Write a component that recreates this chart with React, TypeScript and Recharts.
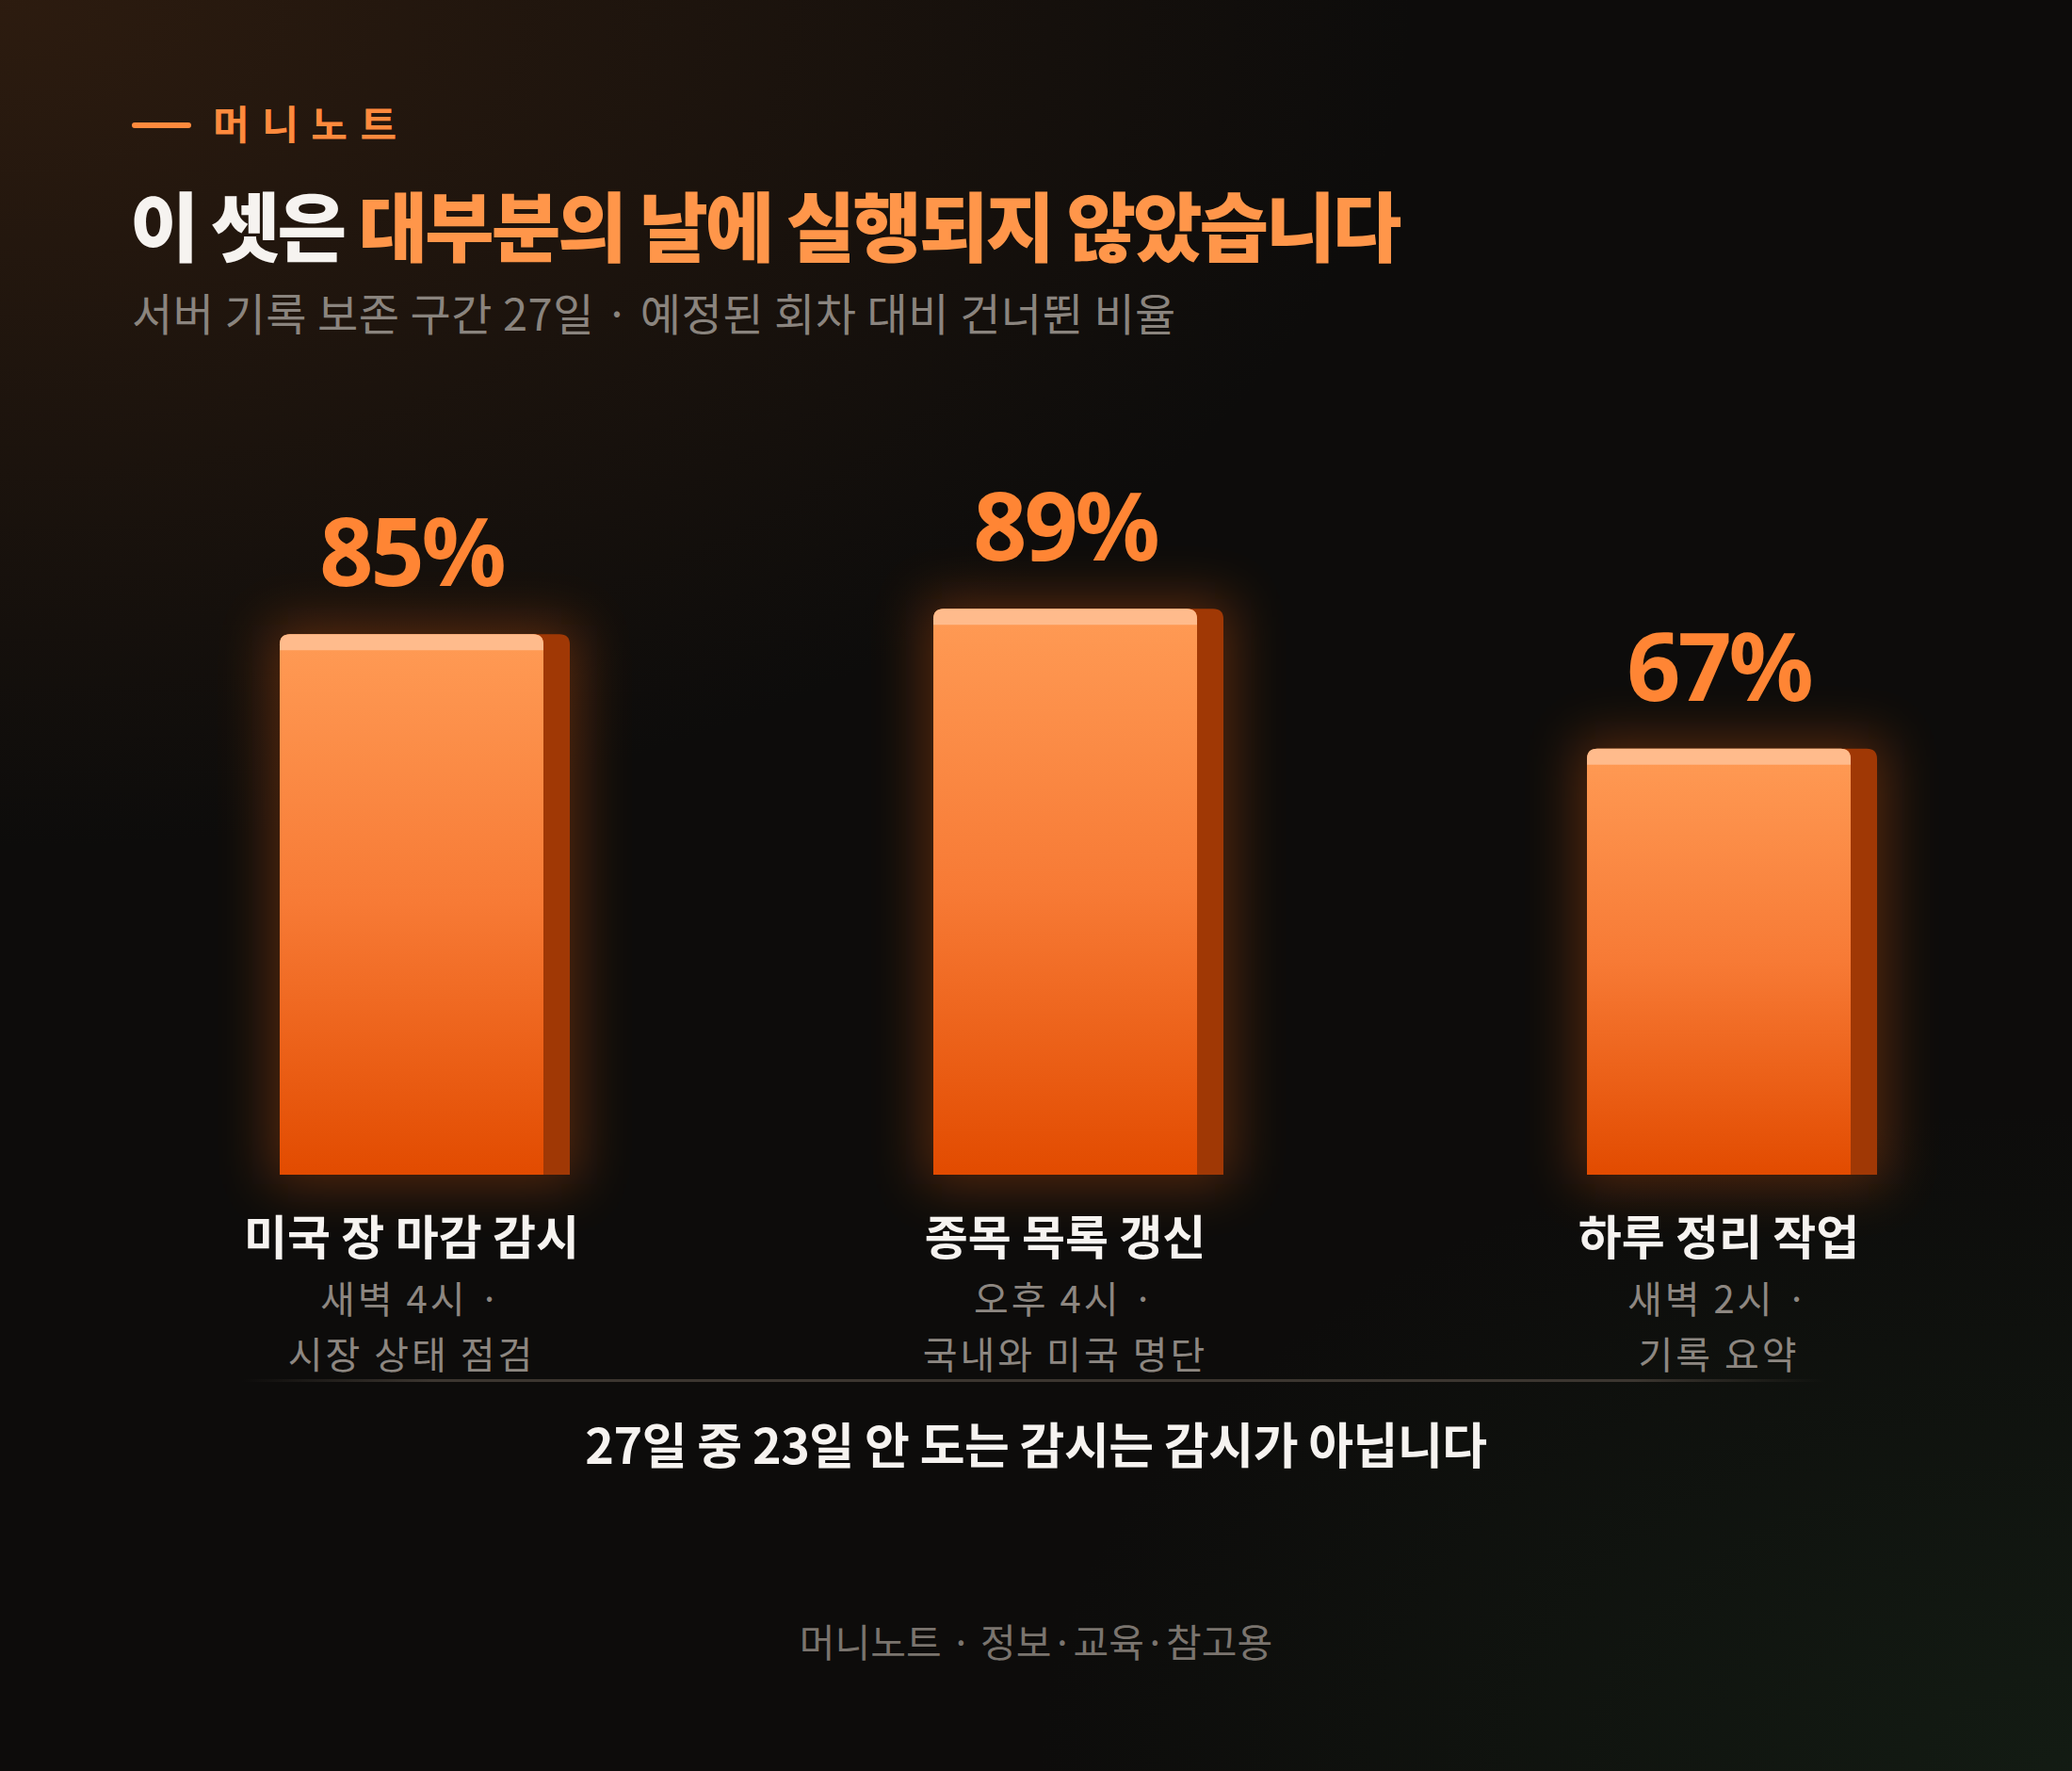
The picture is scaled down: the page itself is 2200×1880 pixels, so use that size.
import { BarChart, Bar, XAxis, YAxis, LabelList } from 'recharts';

const categories = ['미국 장 마감 감시', '종목 목록 갱신', '하루 정리 작업'];
const skipRates = [85, 89, 67];
const timeLines = ['새벽 4시 ·', '오후 4시 ·', '새벽 2시 ·'];
const taskLines = ['시장 상태 점검', '국내와 미국 명단', '기록 요약'];

const data = categories.map((name, i) => ({
  name,
  rate: skipRates[i],
  time: timeLines[i],
  task: taskLines[i],
}));

const KR = "'Noto Sans CJK KR', 'Noto Sans', sans-serif";
const SIDE = 28;

function Bar3D(props: any) {
  const { x, y, width, height } = props;
  if (!height || height <= 0) return null;
  const fw = width - SIDE;
  const r = 11;
  const bottom = y + height;
  const front = `M${x},${bottom} L${x},${y + r} Q${x},${y} ${x + r},${y} L${x + fw - r},${y} Q${x + fw},${y} ${x + fw},${y + r} L${x + fw},${bottom} Z`;
  const hl = `M${x},${y + 17} L${x},${y + r} Q${x},${y} ${x + r},${y} L${x + fw - r},${y} Q${x + fw},${y} ${x + fw},${y + r} L${x + fw},${y + 17} Z`;
  const side = `M${x + fw - r},${bottom} L${x + fw - r},${y} L${x + width - r},${y} Q${x + width},${y} ${x + width},${y + r} L${x + width},${bottom} Z`;
  return (
    <g>
      <rect x={x - 10} y={y - 10} width={width + 20} height={height + 20} fill="#ff6a12" opacity={0.3} filter="url(#barGlow)" />
      <path d={side} fill="#a03805" />
      <path d={front} fill="url(#frontGrad)" />
      <path d={hl} fill="#ffbb8c" />
    </g>
  );
}

function ValueLabel(props: any) {
  const { x, y, width, value } = props;
  return (
    <text
      x={x + (width - SIDE) / 2}
      y={y - 51}
      textAnchor="middle"
      fill="#ff8534"
      fontFamily="'Noto Sans', sans-serif"
      fontWeight={700}
      fontSize={100}
      letterSpacing={-3}
    >
      {value}%
    </text>
  );
}

function CategoryTick(props: any) {
  const { x, y, payload } = props;
  const i = payload.index;
  const cx = x - SIDE / 2;
  return (
    <g fontFamily={KR}>
      <text x={cx} y={y + 85} textAnchor="middle" fill="#f6f3f0" fontWeight={700} fontSize={50}>
        {categories[i]}
      </text>
      <text x={cx} y={y + 147} textAnchor="middle" fill="#8d8781" fontSize={40} letterSpacing={3}>
        {timeLines[i]}
      </text>
      <text x={cx} y={y + 206} textAnchor="middle" fill="#8d8781" fontSize={40} letterSpacing={3}>
        {taskLines[i]}
      </text>
    </g>
  );
}

export default function App() {
  return (
    <div
      style={{
        position: 'absolute',
        left: 0,
        top: 0,
        width: 2200,
        height: 1880,
        overflow: 'hidden',
        fontFamily: KR,
        background:
          'radial-gradient(ellipse 1500px 900px at 0% 0%, rgba(58,34,17,0.7), rgba(58,34,17,0) 100%), radial-gradient(ellipse 1100px 700px at 100% 100%, rgba(24,40,26,0.55), rgba(24,40,26,0) 100%), #0d0c0b',
      }}
    >
      <svg width={0} height={0} style={{ position: 'absolute' }}>
        <defs>
          <linearGradient id="frontGrad" x1="0" y1="0" x2="0" y2="1">
            <stop offset="0%" stopColor="#ff9b55" />
            <stop offset="50%" stopColor="#f77a35" />
            <stop offset="100%" stopColor="#e24b00" />
          </linearGradient>
          <filter id="barGlow" x="-50%" y="-50%" width="200%" height="200%">
            <feGaussianBlur stdDeviation="28" />
          </filter>
        </defs>
      </svg>

      <div style={{ position: 'absolute', left: 140, top: 130, width: 63, height: 6, borderRadius: 3, background: '#ff8a3d' }} />
      <div
        style={{
          position: 'absolute',
          left: 226,
          top: 109,
          fontSize: 42,
          lineHeight: 1,
          fontWeight: 700,
          letterSpacing: 13.5,
          color: '#ff8a3d',
        }}
      >
        머니노트
      </div>

      <div
        style={{
          position: 'absolute',
          left: 138,
          top: 196,
          fontSize: 80,
          lineHeight: 1,
          fontWeight: 900,
          letterSpacing: -3,
          whiteSpace: 'nowrap',
          color: '#f6f3f0',
        }}
      >
        이 셋은 <span style={{ color: '#ff964a' }}>대부분의 날에 실행되지 않았습니다</span>
      </div>

      <div
        style={{
          position: 'absolute',
          left: 140,
          top: 307,
          fontSize: 47,
          lineHeight: 1,
          letterSpacing: 0.5,
          whiteSpace: 'nowrap',
          color: '#8a847e',
        }}
      >
        서버 기록 보존 구간 27일 · 예정된 회차 대비 건너뛴 비율
      </div>

      <div style={{ position: 'absolute', left: 0, top: 0 }}>
        <BarChart width={2200} height={1880} data={data} margin={{ top: 572, right: 14, bottom: 383, left: 104 }}>
          <YAxis hide domain={[0, 100]} />
          <XAxis
            dataKey="name"
            axisLine={false}
            tickLine={false}
            tickSize={0}
            tickMargin={0}
            height={250}
            interval={0}
            tick={<CategoryTick />}
          />
          <Bar dataKey="rate" barSize={308} shape={<Bar3D />} isAnimationActive={false}>
            <LabelList dataKey="rate" content={<ValueLabel />} />
          </Bar>
        </BarChart>
      </div>

      <div
        style={{
          position: 'absolute',
          left: 257,
          top: 1464,
          width: 1680,
          height: 3,
          background: 'linear-gradient(90deg, rgba(60,54,48,0), rgba(60,54,48,1) 12%, rgba(60,54,48,1) 88%, rgba(60,54,48,0))',
        }}
      />

      <div
        style={{
          position: 'absolute',
          left: 0,
          width: 2200,
          top: 1506,
          textAlign: 'center',
          fontSize: 52,
          lineHeight: 1,
          fontWeight: 700,
          letterSpacing: -0.5,
          color: '#f6f3f0',
        }}
      >
        27일 중 23일 안 도는 감시는 감시가 아닙니다
      </div>

      <div
        style={{
          position: 'absolute',
          left: 0,
          width: 2200,
          top: 1721,
          textAlign: 'center',
          fontSize: 41,
          lineHeight: 1,
          color: '#7a746e',
        }}
      >
        머니노트 · 정보·교육·참고용
      </div>
    </div>
  );
}
